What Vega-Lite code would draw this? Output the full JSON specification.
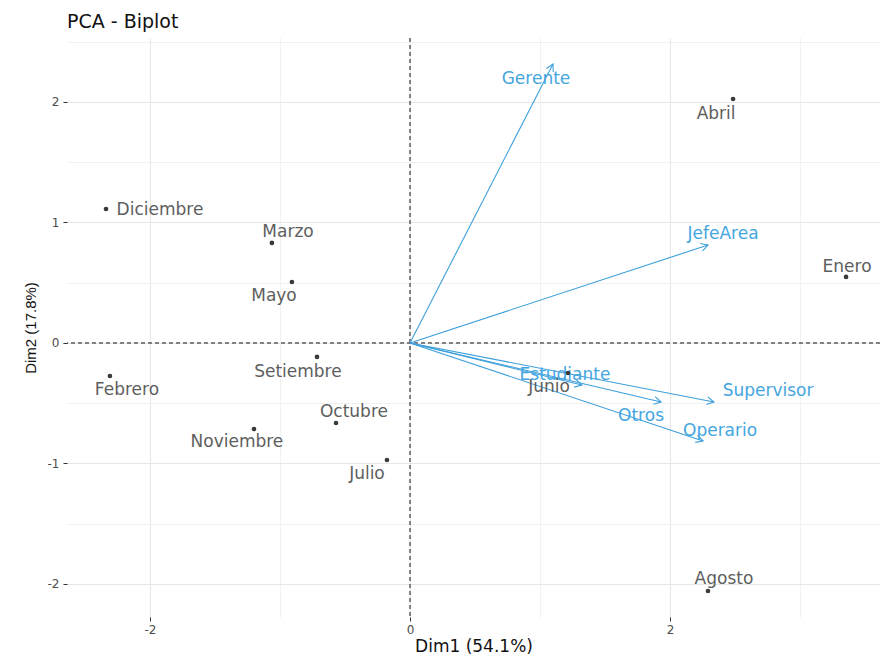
{
  "$schema": "https://vega.github.io/schema/vega-lite/v6.json",
  "width": 813,
  "height": 579,
  "autosize": {"type": "none"},
  "padding": {"left": 67, "top": 38, "right": 2, "bottom": 40},
  "background": "white",
  "title": {
    "text": "PCA - Biplot",
    "anchor": "start",
    "frame": "group",
    "font": "DejaVu Sans",
    "fontSize": 19,
    "fontWeight": "normal",
    "color": "#111111",
    "offset": 6
  },
  "config": {
    "view": {"stroke": null},
    "axis": {
      "domain": false,
      "grid": true,
      "gridWidth": 1,
      "tickColor": "#333333",
      "tickSize": 4,
      "labelFont": "DejaVu Sans",
      "labelFontSize": 12,
      "labelColor": "#4d4d4d",
      "titleFontWeight": "normal",
      "titleColor": "#111111"
    }
  },
  "datasets": {
    "ind": [
      {"name": "Enero", "x": 3.354, "y": 0.548, "lx": 3.362, "ly": 0.631},
      {"name": "Febrero", "x": -2.308, "y": -0.274, "lx": -2.177, "ly": -0.39},
      {"name": "Marzo", "x": -1.062, "y": 0.83, "lx": -0.938, "ly": 0.921},
      {"name": "Abril", "x": 2.485, "y": 2.025, "lx": 2.354, "ly": 1.9},
      {"name": "Mayo", "x": -0.908, "y": 0.506, "lx": -1.046, "ly": 0.39},
      {"name": "Junio", "x": 1.215, "y": -0.249, "lx": 1.069, "ly": -0.365},
      {"name": "Julio", "x": -0.177, "y": -0.971, "lx": -0.331, "ly": -1.087},
      {"name": "Agosto", "x": 2.292, "y": -2.058, "lx": 2.415, "ly": -1.959},
      {"name": "Setiembre", "x": -0.715, "y": -0.116, "lx": -0.862, "ly": -0.241},
      {"name": "Octubre", "x": -0.569, "y": -0.664, "lx": -0.431, "ly": -0.573},
      {"name": "Noviembre", "x": -1.2, "y": -0.714, "lx": -1.331, "ly": -0.822},
      {"name": "Diciembre", "x": -2.338, "y": 1.112, "lx": -1.923, "ly": 1.104}
    ],
    "var": [
      {"name": "Gerente", "x": 1.1, "y": 2.315, "lx": 0.969, "ly": 2.191},
      {"name": "JefeArea", "x": 2.292, "y": 0.813, "lx": 2.408, "ly": 0.905},
      {"name": "Supervisor", "x": 2.338, "y": -0.49, "lx": 2.754, "ly": -0.398},
      {"name": "Operario", "x": 2.254, "y": -0.813, "lx": 2.385, "ly": -0.73},
      {"name": "Otros", "x": 1.931, "y": -0.49, "lx": 1.777, "ly": -0.606},
      {"name": "Estudiante", "x": 1.323, "y": -0.349, "lx": 1.192, "ly": -0.266}
    ]
  },
  "layer": [
    {
      "data": {"name": "ind"},
      "mark": {"type": "point", "opacity": 0},
      "encoding": {
        "x": {
          "field": "x",
          "type": "quantitative",
          "scale": {"domain": [-2.638, 3.615], "nice": false, "zero": false},
          "axis": {
            "orient": "bottom",
            "values": [-2, -1, 0, 1, 2, 3],
            "labelExpr": "datum.value % 2 === 0 ? toString(datum.value) : ''",
            "tickOpacity": {"condition": {"test": "datum.value % 2 !== 0", "value": 0}, "value": 1},
            "gridColor": {"condition": {"test": "datum.value % 2 !== 0", "value": "#f1f1f1"}, "value": "#e6e6e6"},
            "labelPadding": 3,
            "title": "Dim1 (54.1%)",
            "titleFont": "DejaVu Sans",
            "titleFontSize": 17,
            "titlePadding": 3
          }
        },
        "y": {
          "field": "y",
          "type": "quantitative",
          "scale": {"domain": [-2.274, 2.531], "nice": false, "zero": false},
          "axis": {
            "orient": "left",
            "values": [-2, -1.5, -1, -0.5, 0, 0.5, 1, 1.5, 2, 2.5],
            "labelExpr": "datum.value % 1 === 0 ? toString(datum.value) : ''",
            "tickOpacity": {"condition": {"test": "datum.value % 1 !== 0", "value": 0}, "value": 1},
            "gridColor": {"condition": {"test": "datum.value % 1 !== 0", "value": "#f1f1f1"}, "value": "#e6e6e6"},
            "labelPadding": 4,
            "title": "Dim2 (17.8%)",
            "titleFont": "Liberation Sans",
            "titleFontSize": 15,
            "titlePadding": 9
          }
        }
      }
    },
    {
      "data": {"values": [{}]},
      "mark": {"type": "rule", "color": "#111111", "strokeWidth": 1, "strokeDash": [4, 3]},
      "encoding": {"x": {"datum": 0, "type": "quantitative"}}
    },
    {
      "data": {"values": [{}]},
      "mark": {"type": "rule", "color": "#111111", "strokeWidth": 1, "strokeDash": [4, 3]},
      "encoding": {"y": {"datum": 0, "type": "quantitative"}}
    },
    {
      "data": {"name": "var"},
      "mark": {"type": "rule", "color": "#3d9fdb", "strokeWidth": 1.1},
      "encoding": {
        "x": {"field": "x", "type": "quantitative"},
        "y": {"field": "y", "type": "quantitative"},
        "x2": {"datum": 0},
        "y2": {"datum": 0}
      }
    },
    {
      "data": {"name": "var"},
      "transform": [
        {"calculate": "atan2(-datum.y * 120.5, datum.x * 130) * 180 / PI", "as": "heading"}
      ],
      "mark": {
        "type": "point",
        "shape": "M-1,-0.55L0,0L-1,0.55",
        "filled": false,
        "color": "#3d9fdb",
        "strokeWidth": 1.1,
        "size": 196,
        "opacity": 1
      },
      "encoding": {
        "x": {"field": "x", "type": "quantitative"},
        "y": {"field": "y", "type": "quantitative"},
        "angle": {"field": "heading", "type": "quantitative", "scale": null}
      }
    },
    {
      "data": {"name": "var"},
      "mark": {"type": "text", "font": "DejaVu Sans", "fontSize": 17, "color": "#45a6df", "align": "center", "baseline": "middle"},
      "encoding": {
        "x": {"field": "lx", "type": "quantitative"},
        "y": {"field": "ly", "type": "quantitative"},
        "text": {"field": "name"}
      }
    },
    {
      "data": {"name": "ind"},
      "mark": {"type": "circle", "color": "#3a3a3a", "size": 22, "opacity": 1},
      "encoding": {
        "x": {"field": "x", "type": "quantitative"},
        "y": {"field": "y", "type": "quantitative"}
      }
    },
    {
      "data": {"name": "ind"},
      "mark": {"type": "text", "font": "DejaVu Sans", "fontSize": 17, "color": "#5e5e5e", "align": "center", "baseline": "middle"},
      "encoding": {
        "x": {"field": "lx", "type": "quantitative"},
        "y": {"field": "ly", "type": "quantitative"},
        "text": {"field": "name"}
      }
    }
  ]
}
